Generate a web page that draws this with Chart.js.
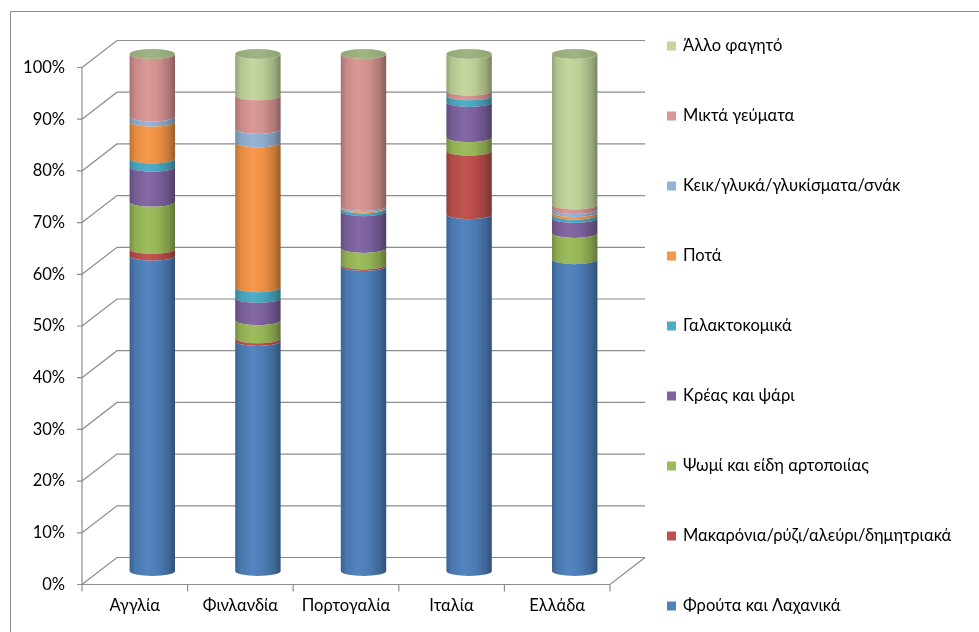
<!DOCTYPE html>
<html>
<head>
<meta charset="utf-8">
<script src="https://cdn.jsdelivr.net/npm/chart.js@4/dist/chart.umd.min.js"></script>
<style>
  html, body { margin: 0; padding: 0; background: #fff; }
  canvas { display: block; }
</style>
</head>
<body>
<canvas id="chart" width="979" height="632"></canvas>
<script>
// Categories (countries)
const countries = ['Αγγλία', 'Φινλανδία', 'Πορτογαλία', 'Ιταλία', 'Ελλάδα'];

// Series names, bottom of the stack first
const seriesNames = [
  'Φρούτα και Λαχανικά',
  'Μακαρόνια/ρύζι/αλεύρι/δημητριακά',
  'Ψωμί και είδη αρτοποιίας',
  'Κρέας και ψάρι',
  'Γαλακτοκομικά',
  'Ποτά',
  'Κεικ/γλυκά/γλυκίσματα/σνάκ',
  'Μικτά γεύματα',
  'Άλλο φαγητό'
];

// Shares (%) per country
const fruitVeg    = [61.0, 44.5, 59.0, 69.0, 60.3];
const pastaCereal = [1.3, 0.5, 0.3, 12.3, 0.0];
const bread       = [9.1, 3.5, 3.2, 2.6, 5.1];
const meatFish    = [6.8, 4.3, 7.1, 6.8, 2.9];
const dairy       = [1.6, 2.1, 0.5, 1.3, 0.6];
const drinks      = [7.1, 28.0, 0.2, 0.0, 0.5];
const sweets      = [1.0, 2.6, 0.3, 0.0, 0.6];
const mixedMeals  = [12.1, 6.5, 29.4, 0.9, 0.9];
const otherFood   = [0.0, 8.0, 0.0, 7.1, 29.1];

const seriesValues = [fruitVeg, pastaCereal, bread, meatFish, dairy, drinks, sweets, mixedMeals, otherFood];
const seriesColors = ['#4F81BD', '#C0504D', '#9BBB59', '#8064A2', '#4BACC6', '#F79646', '#95B3D7', '#D99694', '#C3D69B'];

// Value axis tick labels
const yTickLabels = ['0%', '10%', '20%', '30%', '40%', '50%', '60%', '70%', '80%', '90%', '100%'];

const FONT_FAMILY = 'Lato, "Open Sans", sans-serif';
const FONT_SIZE = 16.5;
const GRID_COLOR = '#8C8C8C';
const DEPTH_X = 17.5;   // half of the floor depth, horizontal
const DEPTH_Y = 13.5;   // half of the floor depth, vertical
const CAP_RY = 5;       // vertical radius of cylinder ellipses

function mix(hex, target, amt) {
  const n = parseInt(hex.slice(1), 16);
  const r = (n >> 16) & 255, g = (n >> 8) & 255, b = n & 255;
  const t = target === 'white' ? 255 : 0;
  const f = c => Math.round(c + (t - c) * amt);
  return `rgb(${f(r)},${f(g)},${f(b)})`;
}

function cylinderGradient(ctx, left, right, color) {
  const g = ctx.createLinearGradient(left, 0, right, 0);
  g.addColorStop(0.0, mix(color, 'black', 0.24));
  g.addColorStop(0.12, mix(color, 'black', 0.08));
  g.addColorStop(0.38, mix(color, 'white', 0.03));
  g.addColorStop(0.62, mix(color, 'black', 0.04));
  g.addColorStop(0.86, mix(color, 'black', 0.2));
  g.addColorStop(1.0, mix(color, 'black', 0.38));
  return g;
}

// 3D walls, floor and frame behind the cylinders
const boxPlugin = {
  id: 'box3d',
  beforeDatasetsDraw(chart) {
    const { ctx, chartArea: a, scales: { y } } = chart;
    const L = a.left, R = a.right;
    ctx.save();
    // outer frame
    ctx.strokeStyle = '#8C8C8C';
    ctx.lineWidth = 1;
    ctx.beginPath();
    ctx.moveTo(10.5, chart.height);
    ctx.lineTo(10.5, 11.5);
    ctx.lineTo(chart.width, 11.5);
    ctx.stroke();

    ctx.strokeStyle = GRID_COLOR;
    ctx.lineWidth = 1.2;
    ctx.beginPath();
    yTickLabels.forEach((_, i) => {
      const py = y.getPixelForValue(i * 10);
      // side wall diagonal and back wall gridline
      ctx.moveTo(L - DEPTH_X, py + DEPTH_Y);
      ctx.lineTo(L + DEPTH_X, py - DEPTH_Y);
      ctx.lineTo(R + DEPTH_X, py - DEPTH_Y);
      // small tick on the front axis
      ctx.moveTo(L - DEPTH_X - 5, py + DEPTH_Y);
      ctx.lineTo(L - DEPTH_X, py + DEPTH_Y);
    });
    const y0 = y.getPixelForValue(0), y100 = y.getPixelForValue(100);
    // front vertical axis
    ctx.moveTo(L - DEPTH_X, y100 + DEPTH_Y);
    ctx.lineTo(L - DEPTH_X, y0 + DEPTH_Y + 7);
    // floor front edge and right edge
    ctx.moveTo(L - DEPTH_X, y0 + DEPTH_Y);
    ctx.lineTo(R - DEPTH_X, y0 + DEPTH_Y);
    ctx.lineTo(R + DEPTH_X, y0 - DEPTH_Y);
    // category boundary ticks
    const step = (R - L) / countries.length;
    for (let i = 1; i <= countries.length; i++) {
      const px = L + i * step - DEPTH_X;
      ctx.moveTo(px, y0 + DEPTH_Y);
      ctx.lineTo(px, y0 + DEPTH_Y + 7);
    }
    ctx.stroke();
    ctx.restore();
  },
  // each stacked segment is drawn as the visible front face of a cylinder slice
  beforeDatasetDraw(chart, args) {
    const { ctx } = chart;
    const color = seriesColors[args.index];
    ctx.save();
    args.meta.data.forEach((bar, i) => {
      const v = chart.data.datasets[args.index].data[i];
      if (!v) return;
      const { x, y: top, base, width } = bar.getProps(['x', 'y', 'base', 'width'], true);
      const rx = width / 2, left = x - rx, right = x + rx;
      ctx.beginPath();
      ctx.moveTo(left, top);
      ctx.lineTo(left, base);
      ctx.ellipse(x, base, rx, CAP_RY, 0, Math.PI, 0, true);
      ctx.lineTo(right, top);
      ctx.ellipse(x, top, rx, CAP_RY, 0, 0, Math.PI, false);
      ctx.closePath();
      ctx.fillStyle = cylinderGradient(ctx, left, right, color);
      ctx.fill();
    });
    ctx.restore();
    return false;
  },
  afterDatasetsDraw(chart) {
    // top caps of the cylinders
    const { ctx } = chart;
    const last = chart.getDatasetMeta(seriesNames.length - 1);
    ctx.save();
    last.data.forEach(bar => {
      const { x, y, width } = bar.getProps(['x', 'y', 'width'], true);
      const rx = width / 2;
      const g = ctx.createLinearGradient(x - rx, 0, x + rx, 0);
      g.addColorStop(0, '#93A976');
      g.addColorStop(0.5, '#A0B584');
      g.addColorStop(1, '#8EA372');
      ctx.beginPath();
      ctx.ellipse(x, y, rx, CAP_RY, 0, 0, Math.PI * 2);
      ctx.fillStyle = g;
      ctx.fill();
    });
    ctx.restore();
  },
  // legend on the right, top item = top of the stack
  afterDraw(chart) {
    const { ctx } = chart;
    ctx.save();
    ctx.font = `${FONT_SIZE}px ${FONT_FAMILY}`;
    ctx.textBaseline = 'middle';
    ctx.textAlign = 'left';
    for (let k = 0; k < seriesNames.length; k++) {
      const s = seriesNames.length - 1 - k;
      const cy = 46 + k * 70;
      ctx.fillStyle = seriesColors[s];
      ctx.fillRect(667, cy - 4.5, 9, 9);
      ctx.fillStyle = '#000';
      ctx.fillText(seriesNames[s], 683, cy);
    }
    ctx.restore();
  }
};

const axisFont = { family: FONT_FAMILY, size: FONT_SIZE };

new Chart(document.getElementById('chart'), {
  type: 'bar',
  data: {
    labels: countries,
    datasets: seriesNames.map((name, i) => ({
      label: name,
      data: seriesValues[i],
      backgroundColor: seriesColors[i],
      barPercentage: 0.43,
      categoryPercentage: 1
    }))
  },
  options: {
    responsive: false,
    animation: false,
    layout: { padding: { top: 54, right: 351.5, left: 0, bottom: 0 } },
    plugins: { legend: { display: false }, tooltip: { enabled: false } },
    scales: {
      x: {
        stacked: true,
        grid: { display: false, drawTicks: false },
        border: { display: false },
        ticks: { font: axisFont, color: '#000', padding: 25, labelOffset: -DEPTH_X, maxRotation: 0 },
        afterFit(s) { s.height = 61; }
      },
      y: {
        stacked: true,
        min: 0,
        max: 100,
        grid: { display: false, drawTicks: false },
        border: { display: false },
        ticks: {
          stepSize: 10,
          font: axisFont,
          color: '#000',
          padding: 34.5,
          labelOffset: DEPTH_Y,
          callback: (v, i) => yTickLabels[i]
        },
        afterFit(s) { s.width = 99.5; }
      }
    }
  },
  plugins: [boxPlugin]
});
</script>
</body>
</html>
